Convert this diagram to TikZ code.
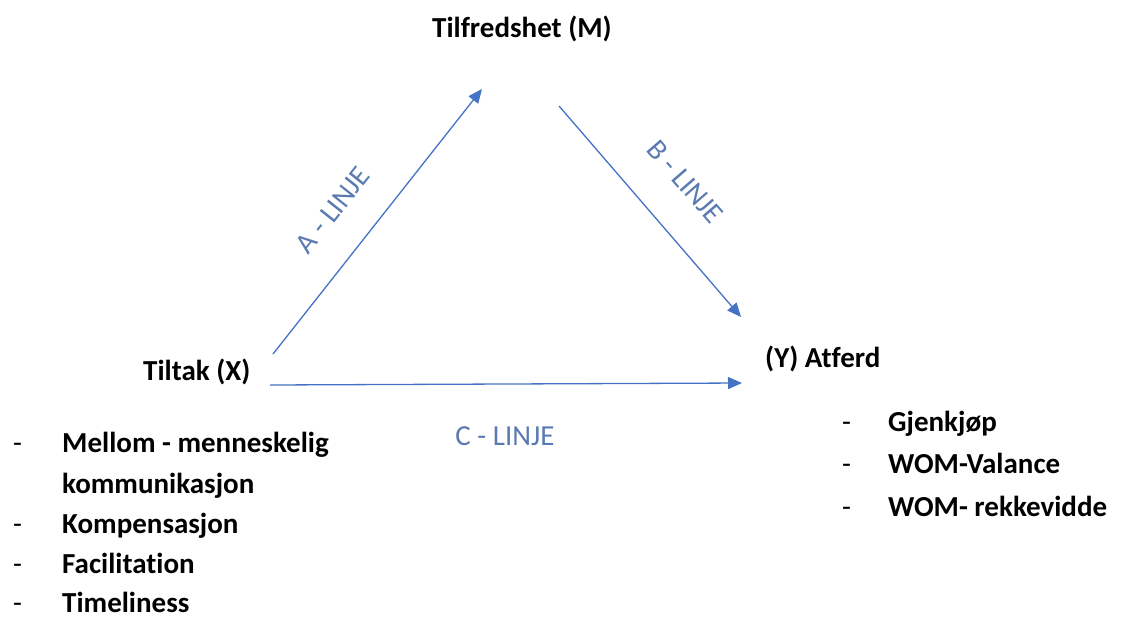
\documentclass[tikz,border=0pt]{standalone}
\usepackage{fontspec}
\setmainfont{Carlito}[Ligatures=NoCommon]
\usetikzlibrary{arrows.meta}
\definecolor{arrowblue}{HTML}{4472C4}
\definecolor{labelblue}{RGB}{92,122,178}

\begin{document}
\begin{tikzpicture}[x=1pt, y=-1pt, font=\fontsize{29}{35}\selectfont\bfseries,
    var/.style={anchor=base west, inner sep=0pt},
    item/.style={anchor=base west, inner sep=0pt},
    dashmark/.style={anchor=base west, inner sep=0pt, font=\fontsize{29}{35}\selectfont},
    link/.style={draw=arrowblue, line width=1.3pt, -{Triangle[length=14pt,width=12pt]}},
    linklabel/.style={text=labelblue, inner sep=0pt, font=\fontsize{29}{35}\selectfont}]
    \useasboundingbox (0,0) rectangle (1129,619);

    % variables
    \node[var] (M) at (432,37) {Tilfredshet (M)};
    \node[var] (X) at (143,380) {Tiltak (X)};
    \node[var] (Y) at (765,367) {(Y) Atferd};

    % arrow ends
    \coordinate (a0) at (273,354);
    \coordinate (a1) at (482,89);
    \coordinate (b0) at (559,106);
    \coordinate (b1) at (741,317);
    \coordinate (c0) at (270,385);
    \coordinate (c1) at (742,383);

    \draw[link] (a0) -- (a1);
    \draw[link] (b0) -- (b1);
    \draw[link] (c0) -- (c1);

    \node[linklabel, rotate=51.5] (la) at (333,210) {A - LINJE};
    \node[linklabel, rotate=-49] (lb) at (685,182) {B - LINJE};
    \node[linklabel] (lc) at (505,436) {C - LINJE};

    % tiltak
    \foreach \y/\n in {452/1, 533/2, 573/3, 612/4}
        \node[dashmark] (dx\n) at (13,\y) {-};
    \node[item] (x1) at (62,452) {Mellom - menneskelig};
    \node[item] (x1b) at (62,493) {kommunikasjon};
    \node[item] (x2) at (62,533) {Kompensasjon};
    \node[item] (x3) at (62,573) {Facilitation};
    \node[item] (x4) at (62,612) {Timeliness};

    % atferd
    \foreach \y/\n in {431/1, 473/2, 516/3}
        \node[dashmark] (dy\n) at (842,\y) {-};
    \node[item] (y1) at (888,431) {Gjenkjøp};
    \node[item] (y2) at (888,473) {WOM-Valance};
    \node[item] (y3) at (888,516) {WOM- rekkevidde};
\end{tikzpicture}
\end{document}
